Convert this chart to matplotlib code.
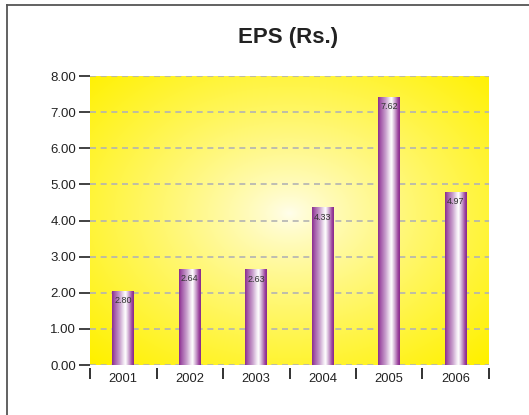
import numpy as np
import matplotlib
matplotlib.use("Agg")
import matplotlib.pyplot as plt
from matplotlib.colors import LinearSegmentedColormap
from matplotlib.lines import Line2D

# ---- data ----
years = ["2001", "2002", "2003", "2004", "2005", "2006"]
bar_heights = [2.05, 2.66, 2.65, 4.36, 7.42, 4.79]
bar_labels = ["2.80", "2.64", "2.63", "4.33", "7.62", "4.97"]
title = "EPS (Rs.)"
yticks = [0, 1, 2, 3, 4, 5, 6, 7, 8]

plt.rcParams['font.family'] = ['Liberation Sans', 'DejaVu Sans']

W, H = 529, 415
fig = plt.figure(figsize=(W / 100, H / 100), dpi=100)
fig.patch.set_facecolor('white')

ax = fig.add_axes([90 / W, 1 - 365 / H, 399 / W, 289 / H])
ax.set_facecolor('none')

x = np.arange(len(years))
ax.set_xlim(-0.5, len(years) - 0.5)
ax.set_ylim(0, 8)

# radial yellow background
n = 300
gx, gy = np.meshgrid(np.linspace(-1, 1, n), np.linspace(-1, 1, n))
r = np.sqrt(gx ** 2 + (gy + 0.05) ** 2) / np.sqrt(2)
t = np.clip(r, 0, 1) ** 0.8
c0 = np.array([1.0, 0.995, 0.93])
c1 = np.array([1.0, 0.945, 0.0])
img = c0[None, None, :] * (1 - t[..., None]) + c1[None, None, :] * t[..., None]
ax.imshow(img, extent=(0, 1, 0, 1), transform=ax.transAxes, aspect='auto',
          zorder=-2, interpolation='bilinear')

# grid
ax.set_yticks(yticks)
ax.set_yticklabels([f"{v:.2f}" for v in yticks])
ax.yaxis.grid(True, linestyle=(0, (3.6, 2.8)), color='#b3b3b3', linewidth=1.2)
ax.set_axisbelow(True)

# bars
bars = ax.bar(x, bar_heights, width=0.33, color='none', edgecolor='none', zorder=3)
bar_cmap = LinearSegmentedColormap.from_list('cyl', [
    (0.0, '#8a2c8e'), (0.12, '#a257a8'), (0.35, '#c9a0cd'),
    (0.55, '#f4ecf5'), (0.62, '#ffffff'), (0.78, '#c99fcc'),
    (0.92, '#9a3f9c'), (1.0, '#862a89')])
grad = np.linspace(0, 1, 256)[None, :]
for b, lab in zip(bars, bar_labels):
    x0, y0 = b.get_x(), b.get_y()
    w, h = b.get_width(), b.get_height()
    im = ax.imshow(grad, cmap=bar_cmap, extent=(x0, x0 + w, y0, y0 + h),
                   aspect='auto', zorder=3, interpolation='bilinear')
    im.set_clip_path(b)
    ax.annotate(lab, (x0 + w / 2, y0 + h), xytext=(0, -10), textcoords='offset pixels',
                ha='center', va='center', fontsize=6.5, color='#333333', zorder=4)

ax.set_xlim(-0.5, len(years) - 0.5)
ax.set_ylim(0, 8)

# spines / ticks
for s in ax.spines.values():
    s.set_visible(False)
ax.spines['bottom'].set_position(('outward', 2))
ax.set_xticks(x)
ax.set_xticklabels(years)
ax.set_xticks(np.arange(-0.5, len(years), 1), minor=True)
ax.tick_params(axis='x', which='major', length=0, pad=4, labelsize=9.3, labelcolor='#222222')
ax.tick_params(axis='x', which='minor', length=8, width=1.3, color='#222222', direction='out')
ax.tick_params(axis='y', which='major', length=8, width=1.3, color='#333333', pad=2,
               labelsize=9.5, labelcolor='#222222')

# title
fig.text(288 / W, 1 - 42.7 / H, title, ha='center', va='baseline',
         fontsize=16, fontweight='bold', color='#222222')

# frame (top and left borders)
fig.add_artist(Line2D([6.5 / W, 1], [1 - 5.5 / H, 1 - 5.5 / H], transform=fig.transFigure,
                      color='#555555', linewidth=1.3))
fig.add_artist(Line2D([6.5 / W, 6.5 / W], [0, 1 - 5.5 / H], transform=fig.transFigure,
                      color='#555555', linewidth=1.3))

fig.savefig('out.png', dpi=100, facecolor='white')
